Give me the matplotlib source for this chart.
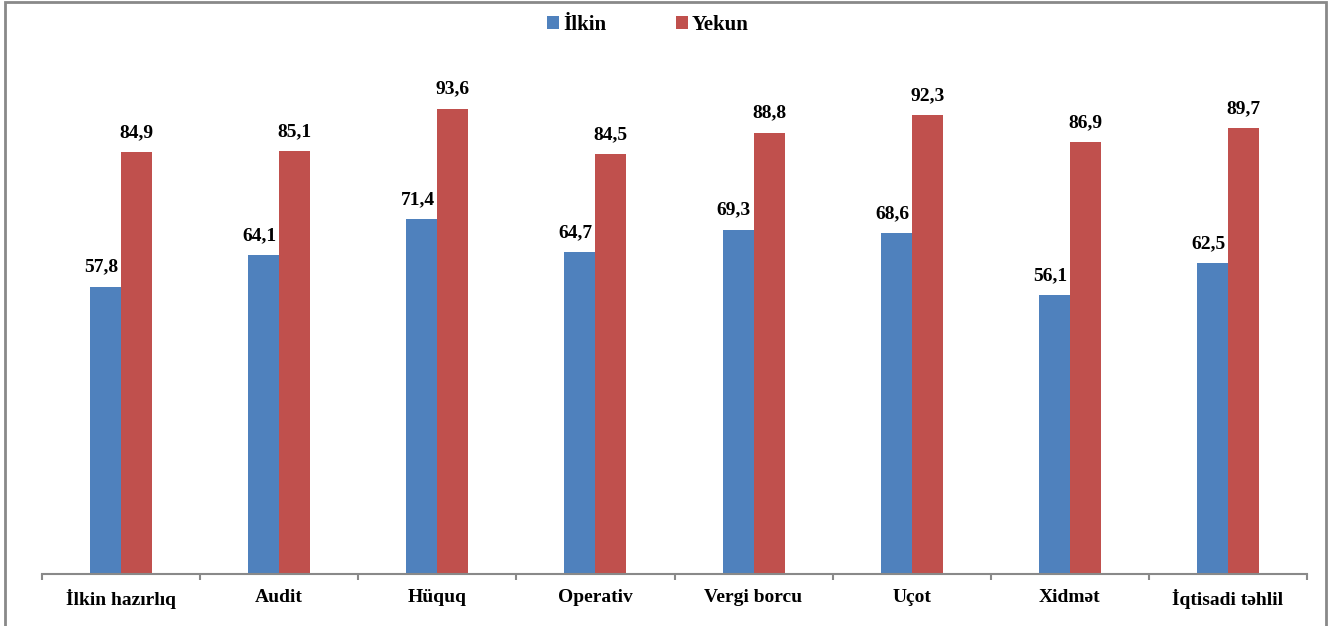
import numpy as np
import matplotlib
matplotlib.use("Agg")
import matplotlib.pyplot as plt
from matplotlib.patches import Rectangle

categories = ["İlkin hazırlıq", "Audit", "Hüquq", "Operativ", "Vergi borcu",
              "Uçot", "Xidmət", "İqtisadi təhlil"]
ilkin = [57.8, 64.1, 71.4, 64.7, 69.3, 68.6, 56.1, 62.5]
yekun = [84.9, 85.1, 93.6, 84.5, 88.8, 92.3, 86.9, 89.7]

plt.rcParams['font.family'] = ['Liberation Serif', 'DejaVu Serif']
plt.rcParams['font.weight'] = 'bold'

W, H = 1332, 626
fig = plt.figure(figsize=(W / 100, H / 100), dpi=100)
ax = fig.add_axes([42 / W, (H - 574) / H, (1307 - 42) / W, (574 - 77) / H])

x = np.arange(len(categories))
bw = 0.196
blue = '#4f81bd'
red = '#c0504d'
ax.bar(x - bw / 2, ilkin, bw, color=blue, label='İlkin')
ax.bar(x + bw / 2, yekun, bw, color=red, label='Yekun')

# value labels above bars
for xi, v in zip(x, ilkin):
    ax.annotate(f"{v:.1f}".replace('.', ','), (xi - bw / 2, v), xytext=(-3, 8),
                textcoords='offset points', ha='center', va='bottom',
                fontsize=14, fontweight='bold')
for xi, v in zip(x, yekun):
    ax.annotate(f"{v:.1f}".replace('.', ','), (xi + bw / 2, v), xytext=(0, 8),
                textcoords='offset points', ha='center', va='bottom',
                fontsize=14, fontweight='bold')

ax.set_xlim(-0.5, len(categories) - 0.5)
ax.set_ylim(0, 100)
ax.set_yticks([])
for s in ['left', 'top', 'right']:
    ax.spines[s].set_visible(False)
ax.spines['bottom'].set_color('#898989')
ax.spines['bottom'].set_linewidth(1.5)

ax.set_xticks(x)
ax.set_xticklabels(categories, fontsize=14, fontweight='bold')
ax.tick_params(axis='x', which='major', length=0, pad=11)
ax.set_xticks(np.arange(len(categories) + 1) - 0.5, minor=True)
ax.tick_params(axis='x', which='minor', length=4, width=1.5, color='#898989')

fig.legend(loc='upper center', bbox_to_anchor=(0.4865, 1.006), ncol=2, frameon=False,
           handlelength=0.58, handleheight=0.58, handletextpad=0.2, columnspacing=3.3,
           prop={'size': 15, 'weight': 'bold'})

# outer chart frame
fig.patches.append(Rectangle((5 / W, -0.05), (1326 - 5) / W, 1.05 - 1.5 / H,
                             transform=fig.transFigure, fill=False,
                             edgecolor='#898989', linewidth=2))

fig.savefig('out.png', dpi=100)
